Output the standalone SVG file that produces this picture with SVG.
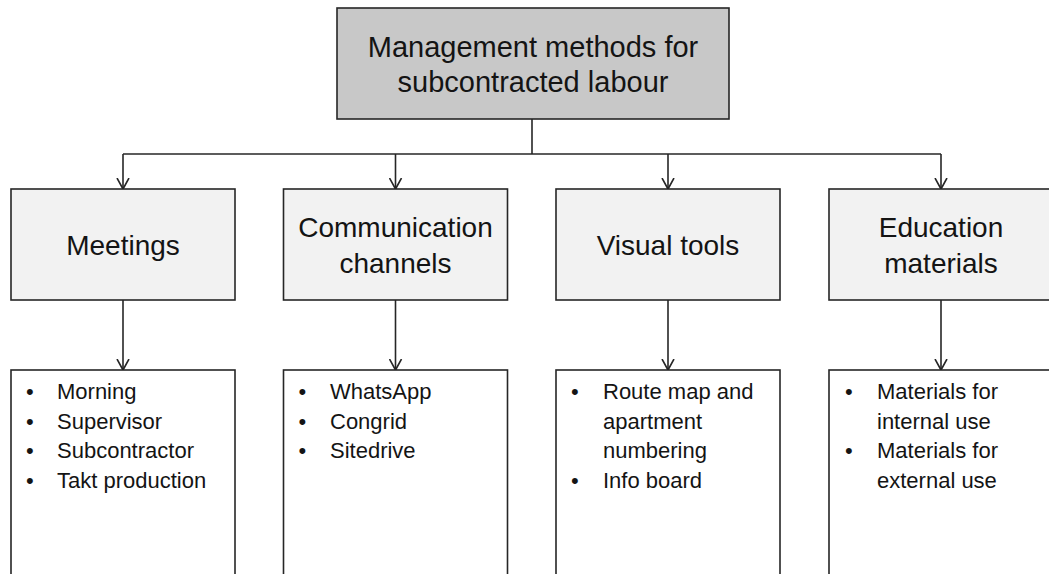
<svg xmlns="http://www.w3.org/2000/svg" width="1049" height="574" viewBox="0 0 1049 574">
<defs>
<style>
.box{stroke:#262626;stroke-width:1.6}
.top{fill:#c8c8c8}
.mid{fill:#f2f2f2}
.list{fill:#ffffff}
text{font-family:"Liberation Sans",Arial,sans-serif;fill:#141414}
.t1{font-size:29px;text-anchor:middle}
.t2{font-size:28px;text-anchor:middle}
.t3{font-size:22px}
.conn{fill:none;stroke:#262626;stroke-width:1.6}
</style>
<marker id="arr" markerUnits="userSpaceOnUse" viewBox="0 0 13 14" refX="11.5" refY="7" markerWidth="13" markerHeight="14" orient="auto">
<path d="M0.5,1 L11.5,7 L0.5,13" fill="none" stroke="#262626" stroke-width="1.6"/>
</marker>
</defs>

<g id="connectors">
<path class="conn" d="M532,119 V154"/>
<path class="conn" d="M123,154 H941"/>
<path class="conn" d="M123,154 V189" marker-end="url(#arr)"/>
<path class="conn" d="M395.5,154 V189" marker-end="url(#arr)"/>
<path class="conn" d="M668,154 V189" marker-end="url(#arr)"/>
<path class="conn" d="M941,154 V189" marker-end="url(#arr)"/>
<path class="conn" d="M123,300 V370" marker-end="url(#arr)"/>
<path class="conn" d="M395.5,300 V370" marker-end="url(#arr)"/>
<path class="conn" d="M668,300 V370" marker-end="url(#arr)"/>
<path class="conn" d="M941,300 V370" marker-end="url(#arr)"/>
</g>

<g id="root">
<rect class="box top" x="337" y="8" width="392" height="111"/>
<text class="t1" x="533" y="57">Management methods for</text>
<text class="t1" x="533" y="92">subcontracted labour</text>
</g>

<g id="meetings">
<rect class="box mid" x="11" y="189" width="224" height="111"/>
<text class="t2" x="123" y="255">Meetings</text>
</g>

<g id="communication">
<rect class="box mid" x="283.5" y="189" width="224" height="111"/>
<text class="t2" x="395.5" y="237">Communication</text>
<text class="t2" x="395.5" y="273">channels</text>
</g>

<g id="visual">
<rect class="box mid" x="556" y="189" width="224" height="111"/>
<text class="t2" x="668" y="255">Visual tools</text>
</g>

<g id="education">
<rect class="box mid" x="829" y="189" width="224" height="111"/>
<text class="t2" x="941" y="237">Education</text>
<text class="t2" x="941" y="273">materials</text>
</g>

<g id="meetings-list">
<rect class="box list" x="11" y="370" width="224" height="220"/>
<text class="t3" x="26" y="399">•</text><text class="t3" x="57" y="399">Morning</text>
<text class="t3" x="26" y="428.5">•</text><text class="t3" x="57" y="428.5">Supervisor</text>
<text class="t3" x="26" y="458">•</text><text class="t3" x="57" y="458">Subcontractor</text>
<text class="t3" x="26" y="487.5">•</text><text class="t3" x="57" y="487.5">Takt production</text>
</g>

<g id="communication-list">
<rect class="box list" x="283.5" y="370" width="224" height="220"/>
<text class="t3" x="298.5" y="399">•</text><text class="t3" x="330" y="399">WhatsApp</text>
<text class="t3" x="298.5" y="428.5">•</text><text class="t3" x="330" y="428.5">Congrid</text>
<text class="t3" x="298.5" y="458">•</text><text class="t3" x="330" y="458">Sitedrive</text>
</g>

<g id="visual-list">
<rect class="box list" x="556" y="370" width="224" height="220"/>
<text class="t3" x="571" y="399">•</text><text class="t3" x="603" y="399">Route map and</text>
<text class="t3" x="603" y="428.5">apartment</text>
<text class="t3" x="603" y="458">numbering</text>
<text class="t3" x="571" y="487.5">•</text><text class="t3" x="603" y="487.5">Info board</text>
</g>

<g id="education-list">
<rect class="box list" x="829" y="370" width="224" height="220"/>
<text class="t3" x="845" y="399">•</text><text class="t3" x="877" y="399">Materials for</text>
<text class="t3" x="877" y="428.5">internal use</text>
<text class="t3" x="845" y="458">•</text><text class="t3" x="877" y="458">Materials for</text>
<text class="t3" x="877" y="487.5">external use</text>
</g>
</svg>
